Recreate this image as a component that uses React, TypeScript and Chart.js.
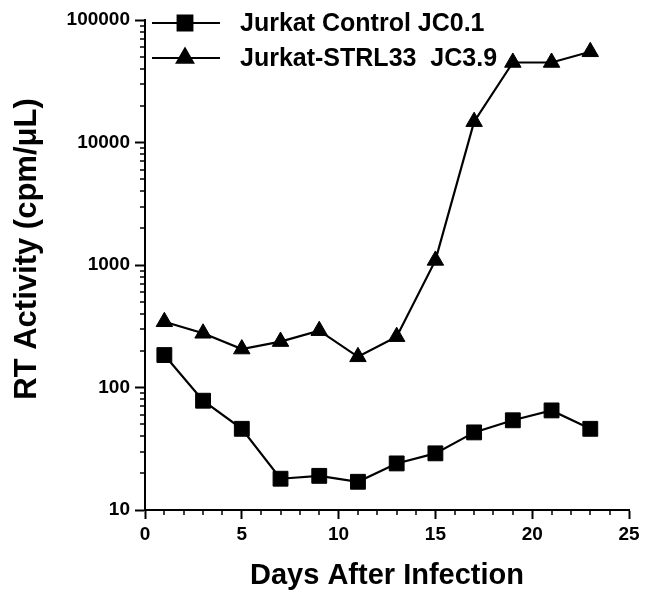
import React, { useEffect, useRef } from 'react';
import { Chart, registerables } from 'chart.js';
import { drawPoint } from 'chart.js/helpers';

Chart.register(...registerables);

const days = [1, 3, 5, 7, 9, 11, 13, 15, 17, 19, 21, 23];
const controlValues = [184, 78, 46, 18, 19, 17, 24, 29, 43, 54, 65, 46];
const strlValues = [344, 277, 206, 237, 291, 178, 260, 1090, 14800, 45000, 45000, 55000];
const seriesLabels = ['Jurkat Control JC0.1', 'Jurkat-STRL33  JC3.9'];
const xTickValues = [0, 5, 10, 15, 20, 25];
const yTickValues = [10, 100, 1000, 10000, 100000];
const xTitle = 'Days After Infection';
const yTitle = 'RT Activity (cpm/\u03BCL)';

const FONT = '"Liberation Sans", Arial, sans-serif';

const minorTicksPlugin = {
  id: 'minorTicks',
  afterDraw(chart: any) {
    const ctx = chart.ctx;
    const xs = chart.scales.x;
    const ys = chart.scales.y;
    ctx.save();
    ctx.strokeStyle = '#000';
    ctx.lineWidth = 1.5;
    ctx.beginPath();
    for (let i = xs.min; i <= xs.max; i++) {
      if (i % 5 === 0) continue;
      const px = Math.round(xs.getPixelForValue(i));
      ctx.moveTo(px, xs.top);
      ctx.lineTo(px, xs.top + 5);
    }
    for (let d = ys.min; d < ys.max; d *= 10) {
      for (let k = 2; k <= 9; k++) {
        const py = Math.round(ys.getPixelForValue(k * d));
        ctx.moveTo(ys.right - 5, py);
        ctx.lineTo(ys.right, py);
      }
    }
    ctx.stroke();
    ctx.restore();
  },
};

const yTitlePlugin = {
  id: 'yTitle',
  afterDraw(chart: any) {
    const ctx = chart.ctx;
    ctx.save();
    ctx.translate(27, 249);
    ctx.rotate(-Math.PI / 2);
    ctx.font = `bold 31px ${FONT}`;
    ctx.fillStyle = '#000';
    ctx.textAlign = 'center';
    ctx.textBaseline = 'middle';
    ctx.fillText(yTitle, 0, 0);
    ctx.restore();
  },
};

const legendPlugin = {
  id: 'refLegend',
  afterDatasetsDraw(chart: any) {
    const ctx = chart.ctx;
    const rows = [23, 58];
    chart.data.datasets.forEach((ds: any, i: number) => {
      const y = rows[i];
      ctx.save();
      ctx.strokeStyle = '#000';
      ctx.fillStyle = '#000';
      ctx.lineWidth = 2;
      ctx.beginPath();
      ctx.moveTo(152, y);
      ctx.lineTo(220, y);
      ctx.stroke();
      drawPoint(ctx, { pointStyle: ds.pointStyle, radius: ds.pointRadius, borderWidth: 1, rotation: 0 } as any, 185, y);
      ctx.font = `bold 25px ${FONT}`;
      ctx.textBaseline = 'middle';
      ctx.textAlign = 'left';
      ctx.fillText(ds.label, 240, y + 1);
      ctx.restore();
    });
  },
};

export default function App() {
  const ref = useRef<HTMLCanvasElement | null>(null);
  useEffect(() => {
    if (!ref.current) return;
    const chart = new Chart(ref.current, {
      type: 'line',
      data: {
        datasets: [
          {
            label: seriesLabels[0],
            data: days.map((d, i) => ({ x: d, y: controlValues[i] })),
            borderColor: '#000',
            backgroundColor: '#000',
            borderWidth: 2.2,
            pointStyle: 'rect',
            pointRadius: 10.5,
            pointBorderWidth: 1,
            pointBackgroundColor: '#000',
            pointBorderColor: '#000',
            tension: 0,
          },
          {
            label: seriesLabels[1],
            data: days.map((d, i) => ({ x: d, y: strlValues[i] })),
            borderColor: '#000',
            backgroundColor: '#000',
            borderWidth: 2.2,
            pointStyle: 'triangle',
            pointRadius: 9.5,
            pointBorderWidth: 1,
            pointBackgroundColor: '#000',
            pointBorderColor: '#000',
            tension: 0,
          },
        ],
      },
      options: {
        animation: false,
        responsive: false,
        layout: { padding: { left: 0, top: 20, right: 16, bottom: 0 } },
        plugins: { legend: { display: false }, tooltip: { enabled: false } },
        scales: {
          x: {
            type: 'linear',
            min: 0,
            max: 25,
            afterBuildTicks: (s: any) => {
              s.ticks = xTickValues.map((v) => ({ value: v }));
            },
            afterFit: (s: any) => {
              s.height = 95;
            },
            grid: { drawOnChartArea: false, tickLength: 9, tickWidth: 2, tickColor: '#000' },
            border: { display: true, color: '#000', width: 2 },
            ticks: {
              color: '#000',
              padding: 4,
              maxRotation: 0,
              font: { family: FONT, size: 19, weight: 'bold' },
            },
            title: {
              display: true,
              text: xTitle,
              color: '#000',
              font: { family: FONT, size: 29, weight: 'bold' },
              padding: { top: 0, bottom: 12 },
            },
          },
          y: {
            type: 'logarithmic',
            min: 10,
            max: 100000,
            afterBuildTicks: (s: any) => {
              s.ticks = yTickValues.map((v) => ({ value: v }));
            },
            afterFit: (s: any) => {
              s.width = 145;
            },
            grid: { drawOnChartArea: false, tickLength: 10, tickWidth: 2, tickColor: '#000' },
            border: { display: true, color: '#000', width: 2 },
            ticks: {
              color: '#000',
              padding: 5,
              font: { family: FONT, size: 19, weight: 'bold' },
              callback: (v: any) => String(v),
            },
          },
        },
      },
      plugins: [minorTicksPlugin, legendPlugin, yTitlePlugin],
    });
    return () => chart.destroy();
  }, []);
  return (
    <div style={{ position: 'absolute', left: 0, top: 0, width: 645, height: 605, background: '#fff' }}>
      <canvas ref={ref} width={645} height={605} />
    </div>
  );
}
